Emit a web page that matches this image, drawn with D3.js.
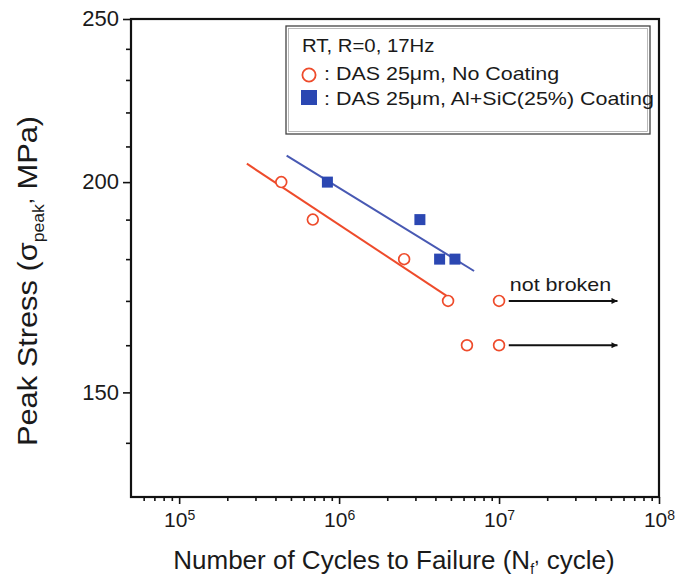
<!DOCTYPE html>
<html>
<head>
<meta charset="utf-8">
<script src="https://cdn.jsdelivr.net/npm/d3@7"></script>
<style>
  body { margin: 0; background: #fff; }
  svg { display: block; }
  text { font-family: "Liberation Sans", Arial, sans-serif; fill: #1a1a1a; }
</style>
</head>
<body>
<svg id="chart" width="676" height="579"></svg>
<script>
// Fatigue results: number of cycles to failure vs. peak stress
const noCoatCycles = [4.35e5, 6.85e5, 2.55e6, 4.8e6, 6.3e6, 1e7, 1e7];
const noCoatStress = [200, 190, 180, 170, 160, 170, 160];
const coatCycles = [8.45e5, 3.2e6, 4.25e6, 5.3e6];
const coatStress = [200, 190, 180, 180];

// Fitted S-N lines, given by their two end points
const noCoatFitCycles = [2.65e5, 4.78e6];
const noCoatFitStress = [205.1, 171.0];
const coatFitCycles = [4.7e5, 6.98e6];
const coatFitStress = [207.4, 177.1];

// Run-out arrows for specimens that did not fail
const runoutStress = [170, 160];
const runoutCycles = [1.15e7, 5.5e7];

// Axis ticks
const xMajorTicks = [1e5, 1e6, 1e7, 1e8];
const xTickExponents = ["5", "6", "7", "8"];
const yMajorTicks = [150, 200, 250];
const yMinorTicks = [140, 160, 170, 180, 190, 210, 220, 230, 240];

const legendTitle = "RT, R=0, 17Hz";
const legendLabels = [": DAS 25\u03bcm, No Coating", ": DAS 25\u03bcm, Al+SiC(25%) Coating"];

const RED = "#ee4b2b";
const BLUE = "#2b47b2";
const BLUE_LINE = "#4859b3";

const plotLeft = 131, plotRight = 659, plotTop = 19, plotBottom = 497;

const svg = d3.select("#chart");

const x = d3.scaleLog().domain([5e4, 1e8]).range([plotLeft, plotRight]);
const y = d3.scaleLog().domain([130, 250]).range([plotBottom, plotTop]);

// arrow head marker
svg.append("defs").append("marker")
  .attr("id", "arrowhead")
  .attr("viewBox", "0 0 10 10")
  .attr("refX", 10).attr("refY", 5)
  .attr("markerWidth", 8).attr("markerHeight", 6)
  .attr("markerUnits", "userSpaceOnUse")
  .attr("orient", "auto")
  .append("path").attr("d", "M0,0 L10,5 L0,10 Z").attr("fill", "#111");

// ---- axes ----
const xMinor = x.ticks().filter(v => !xMajorTicks.includes(v) && v > 5e4);

const xAxisMinor = d3.axisBottom(x).tickValues(xMinor).tickSize(4).tickFormat("");
const xAxisMajor = d3.axisBottom(x).tickValues(xMajorTicks).tickSize(7).tickPadding(4).tickFormat(() => "10");

const gxMinor = svg.append("g").attr("transform", `translate(0,${plotBottom})`).call(xAxisMinor);
const gx = svg.append("g").attr("transform", `translate(0,${plotBottom})`).call(xAxisMajor);
[gxMinor, gx].forEach(g => {
  g.select(".domain").remove();
  g.selectAll(".tick line").attr("stroke", "#111").attr("stroke-width", 1.6);
});
gx.selectAll(".tick text")
  .attr("font-size", 21)
  .attr("dy", "0.92em")
  .attr("fill", "#1a1a1a")
  .each(function(d, i) {
    d3.select(this).append("tspan")
      .attr("dy", "-0.5em")
      .attr("font-size", 14)
      .text(xTickExponents[i]);
  });

const yAxisMinor = d3.axisLeft(y).tickValues(yMinorTicks).tickSize(5).tickFormat("");
const yAxisMajor = d3.axisLeft(y).tickValues(yMajorTicks).tickSize(8).tickPadding(4).tickFormat(d3.format("d"));

const gyMinor = svg.append("g").attr("transform", `translate(${plotLeft},0)`).call(yAxisMinor);
const gy = svg.append("g").attr("transform", `translate(${plotLeft},0)`).call(yAxisMajor);
[gyMinor, gy].forEach(g => {
  g.select(".domain").remove();
  g.selectAll(".tick line").attr("stroke", "#111").attr("stroke-width", 1.6);
});
gy.selectAll(".tick text")
  .attr("font-size", 22)
  .attr("dy", "0.3em")
  .attr("fill", "#1a1a1a");

// plot frame
svg.append("rect")
  .attr("x", plotLeft).attr("y", plotTop)
  .attr("width", plotRight - plotLeft).attr("height", plotBottom - plotTop)
  .attr("fill", "none").attr("stroke", "#111").attr("stroke-width", 2.2);

// ---- axis titles ----
const xTitle = svg.append("text")
  .attr("x", (plotLeft + plotRight) / 2 - 1)
  .attr("y", 569)
  .attr("text-anchor", "middle")
  .attr("font-size", 26);
xTitle.append("tspan").text("Number of Cycles to Failure (N");
xTitle.append("tspan").attr("font-size", 14).attr("dy", 5).text("f");
xTitle.append("tspan").attr("font-size", 20).attr("dy", -11).text(",");
xTitle.append("tspan").attr("dy", 6).text(" cycle)");

const yTitle = svg.append("text")
  .attr("transform", "translate(37,281) rotate(-90) scale(1.1,1)")
  .attr("text-anchor", "middle")
  .attr("font-size", 28);
yTitle.append("tspan").text("Peak Stress (\u03c3");
yTitle.append("tspan").attr("font-size", 16).attr("dy", 7).text("peak");
yTitle.append("tspan").attr("font-size", 20).attr("dy", -12).text(",");
yTitle.append("tspan").attr("dy", 5).text(" MPa)");

// ---- fitted lines ----
const fitLine = d3.line().x(d => x(d[0])).y(d => y(d[1]));
svg.append("path")
  .datum(d3.zip(noCoatFitCycles, noCoatFitStress))
  .attr("d", fitLine)
  .attr("fill", "none").attr("stroke", RED).attr("stroke-width", 2);
svg.append("path")
  .datum(d3.zip(coatFitCycles, coatFitStress))
  .attr("d", fitLine)
  .attr("fill", "none").attr("stroke", BLUE_LINE).attr("stroke-width", 2);

// ---- data points ----
svg.append("g").selectAll("circle")
  .data(d3.zip(noCoatCycles, noCoatStress))
  .join("circle")
  .attr("cx", d => x(d[0]))
  .attr("cy", d => y(d[1]))
  .attr("r", 5.4)
  .attr("fill", "#fff")
  .attr("stroke", RED)
  .attr("stroke-width", 1.7);

const sq = 11;
svg.append("g").selectAll("rect")
  .data(d3.zip(coatCycles, coatStress))
  .join("rect")
  .attr("x", d => x(d[0]) - sq / 2)
  .attr("y", d => y(d[1]) - sq / 2)
  .attr("width", sq).attr("height", sq)
  .attr("fill", BLUE);

// ---- run-out arrows ----
svg.append("g").selectAll("line")
  .data(runoutStress)
  .join("line")
  .attr("x1", x(runoutCycles[0]))
  .attr("x2", x(runoutCycles[1]))
  .attr("y1", d => y(d))
  .attr("y2", d => y(d))
  .attr("stroke", "#111")
  .attr("stroke-width", 2)
  .attr("marker-end", "url(#arrowhead)");

svg.append("text")
  .attr("transform", `translate(${x(runoutCycles[0]) + 1},${y(runoutStress[0]) - 10}) scale(1.13,1)`)
  .attr("font-size", 19)
  .text("not broken");

// ---- legend ----
const lg = svg.append("g");
lg.append("rect")
  .attr("x", 286).attr("y", 26)
  .attr("width", 364).attr("height", 108)
  .attr("fill", "#fff").attr("stroke", "#444").attr("stroke-width", 1.3);
lg.append("rect")
  .attr("x", 288.5).attr("y", 28.5)
  .attr("width", 359).attr("height", 103)
  .attr("fill", "none").attr("stroke", "#aaa").attr("stroke-width", 0.8);

lg.append("text")
  .attr("transform", "translate(302,52) scale(1.1,1)")
  .attr("font-size", 18.5)
  .text(legendTitle);

lg.append("circle")
  .attr("cx", 309).attr("cy", 75).attr("r", 6.6)
  .attr("fill", "#fff").attr("stroke", RED).attr("stroke-width", 1.8);
lg.append("rect")
  .attr("x", 301).attr("y", 90).attr("width", 16).attr("height", 15)
  .attr("fill", BLUE);

lg.selectAll("text.item")
  .data(legendLabels)
  .join("text")
  .attr("class", "item")
  .attr("transform", (d, i) => `translate(324,${80 + i * 24.5}) scale(1.16,1)`)
  .attr("font-size", 18.5)
  .text(d => d);
</script>
</body>
</html>
